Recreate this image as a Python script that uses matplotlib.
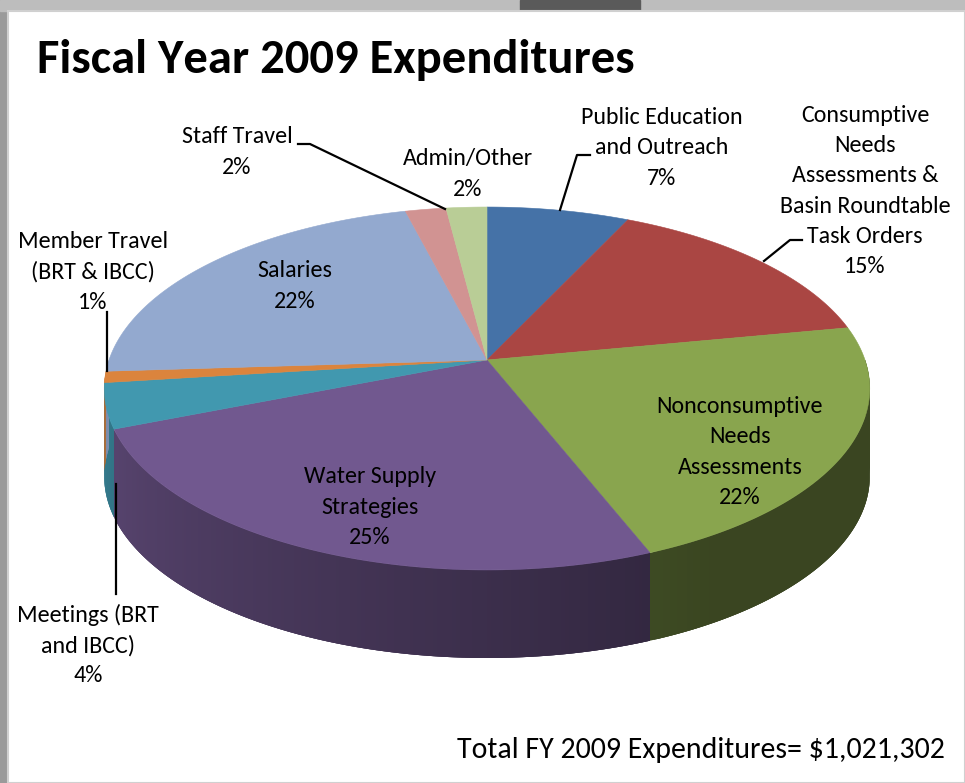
import matplotlib
matplotlib.use("Agg")
import matplotlib.pyplot as plt
from matplotlib.patches import Polygon, Rectangle
from matplotlib import font_manager
import numpy as np

# slices, clockwise from 12 o'clock
categories = ["Public Education\nand Outreach",
              "Consumptive\nNeeds\nAssessments &\nBasin Roundtable\nTask Orders",
              "Nonconsumptive\nNeeds\nAssessments",
              "Water Supply\nStrategies",
              "Meetings (BRT\nand IBCC)",
              "Member Travel\n(BRT & IBCC)",
              "Salaries",
              "Staff Travel",
              "Admin/Other"]
values = [7, 15, 22, 25, 4, 1, 22, 2, 2]
colors = ["#4572a7", "#aa4643", "#89a54e", "#71588f", "#4198af",
          "#db843d", "#93a9cf", "#d19392", "#b9cd96"]
total_text = "Total FY 2009 Expenditures= $1,021,302"

# label block centres in pixels
label_pos = [(662, 148), (865, 191), (740, 452), (370, 507), (88, 645),
             (93, 272), (295, 286), (237, 152), (468, 174)]
# leader lines
leaders = {0: [(560, 210), (577, 155), (590, 155)],
           1: [(764, 261), (790, 240), (802, 240)],
           4: [(116, 484), (116, 594)],
           5: [(107, 312), (107, 371)],
           7: [(445, 209), (310, 144), (298, 144)]}

avail = {f.name for f in font_manager.fontManager.ttflist}
fam = "Carlito" if "Carlito" in avail else "Lato"
plt.rcParams["font.family"] = [fam, "DejaVu Sans"]

W, H = 965, 783
fig = plt.figure(figsize=(W / 100, H / 100), dpi=100, facecolor="#9a9a9a")
ax = fig.add_axes([0, 0, 1, 1])
ax.set_xlim(0, W)
ax.set_ylim(H, 0)
ax.axis("off")

# slide frame
ax.add_patch(Rectangle((0, 0), W, 11, color="#bdbdbd", zorder=0))
ax.add_patch(Rectangle((520, 0), 120, 11, color="#5a5a5a", zorder=0))
ax.add_patch(Rectangle((8, 11), W - 8, H - 11, facecolor="white",
                       edgecolor="#d0d0d0", lw=1.5, zorder=0))

# projected pie geometry
cx, cy = 487, 360
A, B, k = 378, 177, 0.157
depth = 88


def proj(theta_deg):
    t = np.radians(theta_deg)
    w = 1 + k * np.sin(t)
    return cx + A * np.cos(t) / w, cy - B * np.sin(t) / w


def side_shade(theta):
    # light from the left: left side brighter
    f = np.clip((-theta - 60) / 120, 0, 1)
    return 0.42 + 0.42 * f


fracs = np.array(values) / sum(values)
bounds = 90 - 360 * np.concatenate([[0], np.cumsum(fracs)])

# side walls (front half only); segments overlap so no seams show
step = 0.5
for i, col in enumerate(colors):
    s_hi, s_lo = min(bounds[i], 0), max(bounds[i + 1], -180)
    if s_hi <= s_lo:
        continue
    rgb = np.array(matplotlib.colors.to_rgb(col))
    starts = np.arange(s_lo, s_hi, step)
    for lo in starts[::-1]:
        seg_lo, seg_hi = lo, min(lo + step * 3, s_hi)
        ts = np.linspace(seg_lo, seg_hi, 4)
        x, y = proj(ts)
        xs = np.concatenate([x, x[::-1]])
        ys = np.concatenate([y, y[::-1] + depth])
        c = rgb * side_shade(lo + step / 2)
        ax.add_patch(Polygon(np.column_stack([xs, ys]), closed=True,
                             facecolor=c, edgecolor="none", zorder=1))

# top faces
for i, col in enumerate(colors):
    ts = np.linspace(bounds[i], bounds[i + 1], 120)
    x, y = proj(ts)
    pts = np.column_stack([np.concatenate([[cx], x]), np.concatenate([[cy], y])])
    ax.add_patch(Polygon(pts, closed=True, facecolor=col, edgecolor=col,
                         lw=0.4, zorder=2))

# labels
fs = 17.3
for i, name in enumerate(categories):
    x, y = label_pos[i]
    ax.text(x, y, f"{name}\n{values[i]}%", ha="center", va="center",
            fontsize=fs, linespacing=1.53, color="black", zorder=5)
for pts in leaders.values():
    xs, ys = zip(*pts)
    ax.plot(xs, ys, color="black", lw=1.6, zorder=4)

ax.text(37, 60, "Fiscal Year 2009 Expenditures", ha="left", va="center",
        fontsize=35, fontweight="bold", zorder=5)
ax.text(945, 750, total_text, ha="right", va="center", fontsize=21.5, zorder=5)

fig.savefig("out.png", dpi=100, facecolor=fig.get_facecolor())
